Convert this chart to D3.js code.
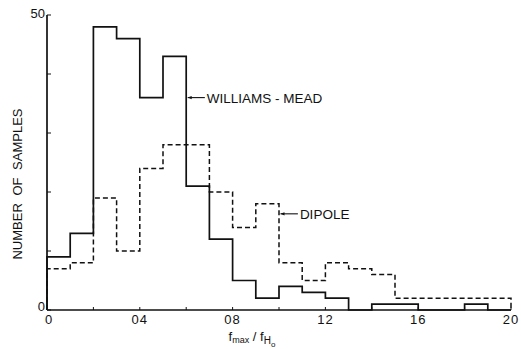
<!DOCTYPE html>
<html>
<head>
<meta charset="utf-8">
<script src="https://cdn.jsdelivr.net/npm/d3@7"></script>
<style>
  body { margin: 0; background: #fff; }
  svg { display: block; font-family: "Liberation Sans", Arial, sans-serif; }
</style>
</head>
<body>
<div id="chart"></div>
<script>
// bins of width 0.1 from 0 to 2.0
const binEdges = d3.range(0, 21).map((i) => i / 10);
const williamsMead = [9, 13, 48, 46, 36, 43, 21, 12, 5, 2, 4, 3, 2, 0, 1, 1, 0, 0, 1, 0];
const dipole = [7, 8, 19, 10, 24, 28, 28, 20, 14, 18, 8, 5, 8, 7, 6, 2, 2, 2, 2, 2];
const xTicks = [0, 0.2, 0.4, 0.6, 0.8, 1.0, 1.2, 1.4, 1.6, 1.8, 2.0];
const xTickLabels = { 0: "0", 0.4: "04", 0.8: "08", 1.2: "12", 1.6: "16", 2: "20" };
const yTicks = [0, 10, 20, 30, 40, 50];
const yTickLabels = { 0: "0", 50: "50" };
const labels = [
  { name: "WILLIAMS - MEAD", x: 0.6, y: 36, textX: 0.689 },
  { name: "DIPOLE", x: 1.0, y: 16.3, textX: 1.09 },
];

const width = 521, height = 349;
const x = d3.scaleLinear().domain([0, 2]).range([47, 511]);
const y = d3.scaleLinear().domain([0, 50]).range([310, 15]);

const svg = d3.select("#chart").append("svg")
  .attr("width", width)
  .attr("height", height);

function stepPath(values) {
  const pts = [[0, 0]];
  values.forEach((v, i) => {
    pts.push([binEdges[i], v]);
    pts.push([binEdges[i + 1], v]);
  });
  pts.push([binEdges[values.length], 0]);
  return d3.line().x((d) => x(d[0])).y((d) => y(d[1]))(pts);
}

// histograms
svg.append("path")
  .attr("d", stepPath(dipole))
  .attr("fill", "none")
  .attr("stroke", "#111")
  .attr("stroke-width", 1.5)
  .attr("stroke-dasharray", "5,3");

svg.append("path")
  .attr("d", stepPath(williamsMead))
  .attr("fill", "none")
  .attr("stroke", "#111")
  .attr("stroke-width", 1.7);

// axes
const axis = svg.append("g").attr("stroke", "#111").attr("stroke-width", 1.7);
axis.append("line")
  .attr("x1", x(0)).attr("x2", x(2))
  .attr("y1", y(0)).attr("y2", y(0));
axis.append("line")
  .attr("x1", x(0)).attr("x2", x(0))
  .attr("y1", y(0)).attr("y2", y(50));

axis.selectAll(".xt")
  .data(xTicks)
  .join("line")
  .attr("stroke-width", 1)
  .attr("x1", (d) => x(d)).attr("x2", (d) => x(d))
  .attr("y1", y(0)).attr("y2", y(0) - 3);

axis.selectAll(".yt")
  .data(yTicks)
  .join("line")
  .attr("stroke-width", 1)
  .attr("x1", x(0)).attr("x2", x(0) + 4)
  .attr("y1", (d) => y(d)).attr("y2", (d) => y(d));

svg.append("g")
  .attr("font-size", 13)
  .attr("fill", "#111")
  .attr("text-anchor", "middle")
  .selectAll("text")
  .data(xTicks.filter((d) => xTickLabels[d] !== undefined))
  .join("text")
  .attr("x", (d) => x(d) + (d === 0 ? 2 : 0))
  .attr("y", y(0) + 13.5)
  .attr("letter-spacing", 1)
  .text((d) => xTickLabels[d]);

svg.append("g")
  .attr("font-size", 13)
  .attr("fill", "#111")
  .attr("text-anchor", "end")
  .selectAll("text")
  .data(yTicks.filter((d) => yTickLabels[d] !== undefined))
  .join("text")
  .attr("x", x(0) - 2)
  .attr("y", (d) => y(d) + (d === 0 ? 1 : 3))
  .text((d) => yTickLabels[d]);

// axis titles
svg.append("text")
  .attr("transform", `translate(22,${184}) rotate(-90)`)
  .attr("text-anchor", "middle")
  .attr("font-size", 13)
  .attr("word-spacing", 4)
  .attr("fill", "#111")
  .text("NUMBER OF SAMPLES");

const xt = svg.append("text")
  .attr("x", 252)
  .attr("y", 341)
  .attr("text-anchor", "middle")
  .attr("font-size", 13)
  .attr("fill", "#111");
xt.append("tspan").text("f");
xt.append("tspan").attr("font-size", 9).attr("dy", 2).text("max");
xt.append("tspan").attr("dy", -2).text(" / f");
xt.append("tspan").attr("font-size", 10).attr("dy", 3).text("H");
xt.append("tspan").attr("font-size", 8).attr("dy", 2.5).text("o");

// series labels with arrows
const lab = svg.append("g").selectAll("g").data(labels).join("g");
lab.append("line")
  .attr("x1", (d) => x(d.x) + 1.5)
  .attr("x2", (d) => x(d.textX) - 2)
  .attr("y1", (d) => y(d.y))
  .attr("y2", (d) => y(d.y))
  .attr("stroke", "#111")
  .attr("stroke-width", 1.1);
lab.append("path")
  .attr("d", (d) => {
    const tx = x(d.x) + 1.5, ty = y(d.y);
    return `M${tx},${ty}L${tx + 4},${ty - 1.6}L${tx + 4},${ty + 1.6}Z`;
  })
  .attr("fill", "#111");
lab.append("text")
  .attr("x", (d) => x(d.textX))
  .attr("y", (d) => y(d.y) + 5)
  .attr("font-size", 13.5)
  .attr("fill", "#111")
  .text((d) => d.name);
</script>
</body>
</html>
